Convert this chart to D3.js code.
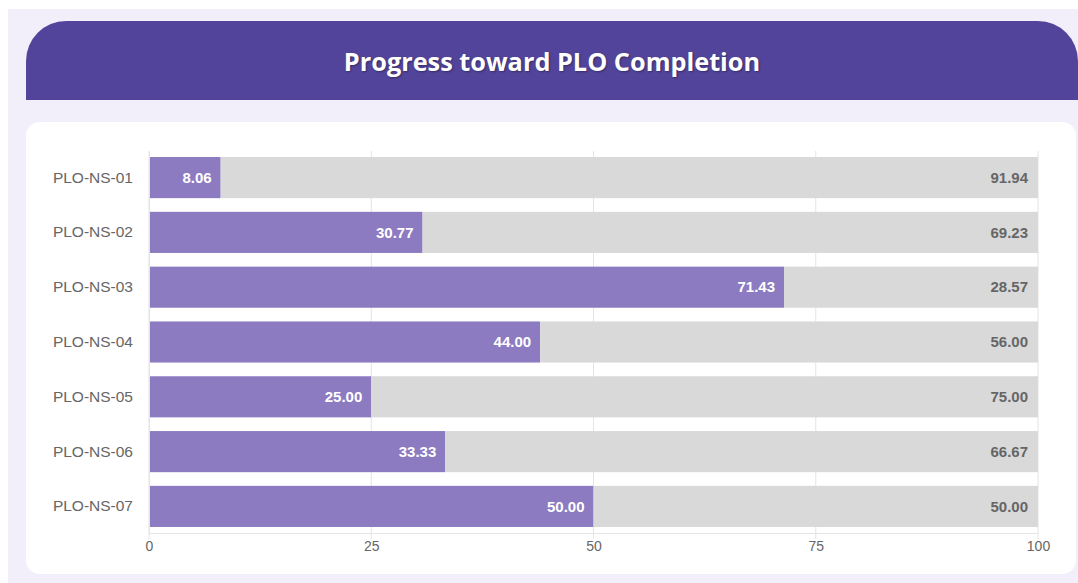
<!DOCTYPE html>
<meta charset="utf-8">
<script src="https://d3js.org/d3.v7.min.js"></script>
<style>
  body { margin: 0; background: #fff; }
</style>
<div id="my_dataviz"></div>
<script>

// data
var plos = ["PLO-NS-01", "PLO-NS-02", "PLO-NS-03", "PLO-NS-04", "PLO-NS-05", "PLO-NS-06", "PLO-NS-07"];
var completed = [8.06, 30.77, 71.43, 44.00, 25.00, 33.33, 50.00];
var remaining = [91.94, 69.23, 28.57, 56.00, 75.00, 66.67, 50.00];
var xTicks = [0, 25, 50, 75, 100];

var W = 1078, H = 583;
var svg = d3.select("#my_dataviz")
  .append("svg")
    .attr("width", W)
    .attr("height", H);

// page background
svg.append("rect")
  .attr("x", 8).attr("y", 9)
  .attr("width", W - 8).attr("height", H - 9)
  .attr("fill", "#f2effb");

// header with rounded top corners
var hx = 26, hy = 21, hw = W - 26, hh = 79, r = 40;
svg.append("path")
  .attr("d", "M" + hx + "," + (hy + hh) +
    " V" + (hy + r) +
    " A" + r + "," + r + " 0 0 1 " + (hx + r) + "," + hy +
    " H" + (hx + hw - r) +
    " A" + r + "," + r + " 0 0 1 " + (hx + hw) + "," + (hy + r) +
    " V" + (hy + hh) + " Z")
  .attr("fill", "#52449a");

svg.append("text")
  .attr("x", hx + hw / 2)
  .attr("y", 71)
  .attr("text-anchor", "middle")
  .attr("fill", "#fff")
  .style("font-family", "'Open Sans', sans-serif")
  .style("font-weight", "bold")
  .style("font-size", "25.3px")
  .style("text-shadow", "1px 1px 2px rgba(0,0,0,0.35)")
  .text("Progress toward PLO Completion");

// white card
svg.append("rect")
  .attr("x", 26).attr("y", 122)
  .attr("width", W - 26 - 2).attr("height", 452)
  .attr("rx", 14)
  .attr("fill", "#fff");

// scales
var x = d3.scaleLinear().domain([0, 100]).range([149, 1038]);
var y = d3.scaleBand().domain(plos).range([151, 533]).paddingInner(0.25).paddingOuter(0.11);

var font = "'Liberation Sans', Arial, sans-serif";

// grid lines
svg.append("g")
  .selectAll("line")
  .data(xTicks)
  .enter()
  .append("line")
    .attr("x1", function(d) { return x(d); })
    .attr("x2", function(d) { return x(d); })
    .attr("y1", 151)
    .attr("y2", 539)
    .attr("stroke", "#e4e4e4")
    .attr("stroke-width", 1);

// bottom axis line
svg.append("line")
  .attr("x1", x(0)).attr("x2", x(100))
  .attr("y1", 533.5).attr("y2", 533.5)
  .attr("stroke", "#e4e4e4");

var rows = plos.map(function(p, i) { return {plo: p, done: completed[i], left: remaining[i]}; });

// completed bars
svg.append("g")
  .selectAll("rect")
  .data(rows)
  .enter()
  .append("rect")
    .attr("x", x(0))
    .attr("y", function(d) { return y(d.plo); })
    .attr("width", function(d) { return x(d.done) - x(0); })
    .attr("height", y.bandwidth())
    .attr("fill", "#8c7bc1");

// remaining bars
svg.append("g")
  .selectAll("rect")
  .data(rows)
  .enter()
  .append("rect")
    .attr("x", function(d) { return x(d.done); })
    .attr("y", function(d) { return y(d.plo); })
    .attr("width", function(d) { return x(d.done + d.left) - x(d.done); })
    .attr("height", y.bandwidth())
    .attr("fill", "#d9d9d9");

// value labels
svg.append("g")
  .selectAll("text")
  .data(rows)
  .enter()
  .append("text")
    .attr("x", function(d) { return x(d.done) - 9; })
    .attr("y", function(d) { return y(d.plo) + y.bandwidth() / 2; })
    .attr("dy", "0.35em")
    .attr("text-anchor", "end")
    .attr("fill", "#fff")
    .style("font-family", font)
    .style("font-weight", "bold")
    .style("font-size", "15px")
    .text(function(d) { return d.done.toFixed(2); });

svg.append("g")
  .selectAll("text")
  .data(rows)
  .enter()
  .append("text")
    .attr("x", function(d) { return x(d.done + d.left) - 10; })
    .attr("y", function(d) { return y(d.plo) + y.bandwidth() / 2; })
    .attr("dy", "0.35em")
    .attr("text-anchor", "end")
    .attr("fill", "#666")
    .style("font-family", font)
    .style("font-weight", "bold")
    .style("font-size", "15px")
    .text(function(d) { return d.left.toFixed(2); });

// y axis labels
svg.append("g")
  .attr("transform", "translate(" + x(0) + ",0)")
  .call(d3.axisLeft(y).tickSize(0).tickPadding(16))
  .call(function(g) { g.select(".domain").attr("stroke", "#e4e4e4"); })
  .selectAll("text")
    .attr("fill", "#666")
    .style("font-family", font)
    .style("font-size", "15.5px");

// x axis labels
svg.append("g")
  .attr("transform", "translate(0,533)")
  .call(d3.axisBottom(x).tickValues(xTicks).tickSize(0).tickPadding(8))
  .call(function(g) { g.select(".domain").remove(); })
  .selectAll("text")
    .attr("fill", "#666")
    .style("font-family", font)
    .style("font-size", "14px");

</script>
